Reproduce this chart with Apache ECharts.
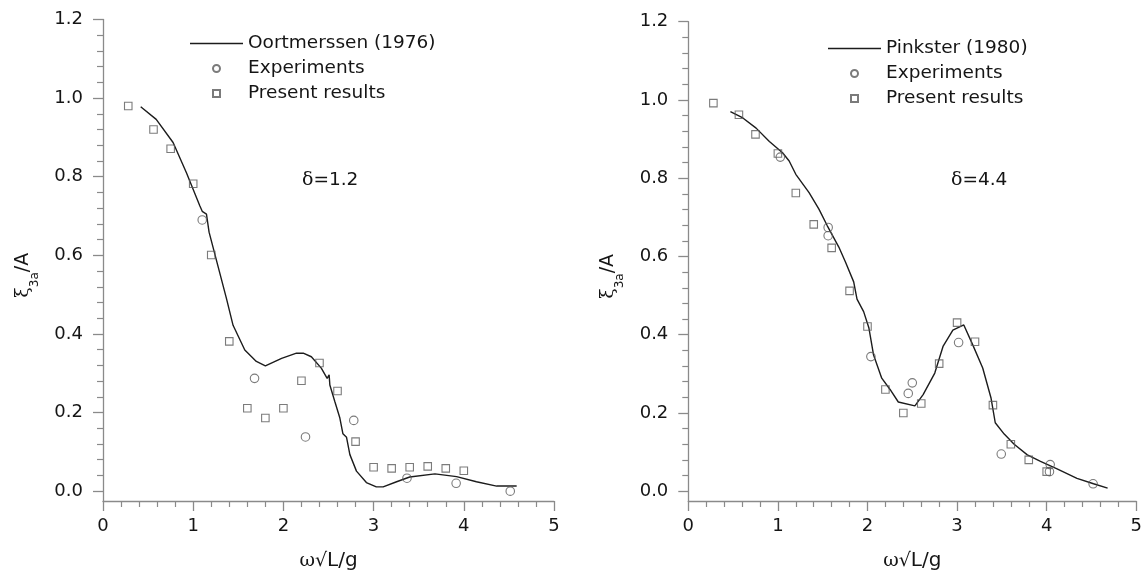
<!DOCTYPE html>
<html><head><meta charset="utf-8">
<script src="https://cdn.jsdelivr.net/npm/echarts@6/dist/echarts.min.js"></script>
<style>html,body{margin:0;padding:0;background:#fff}#c{width:1145px;height:576px}</style>
</head><body><div id="c"></div>
<script>
// ---- data ----
const oortmerssenLine = [[0.418,0.978],[0.59,0.946],[0.777,0.887],[0.925,0.81],[1.073,0.726],[1.10,0.712],[1.147,0.705],[1.176,0.659],[1.369,0.49],[1.442,0.422],[1.572,0.359],[1.70,0.33],[1.80,0.319],[1.98,0.338],[2.145,0.351],[2.22,0.351],[2.31,0.342],[2.42,0.313],[2.485,0.287],[2.507,0.296],[2.515,0.27],[2.57,0.228],[2.626,0.186],[2.66,0.146],[2.70,0.137],[2.737,0.093],[2.81,0.051],[2.92,0.022],[3.03,0.011],[3.106,0.011],[3.255,0.024],[3.40,0.036],[3.68,0.044],[3.92,0.037],[4.14,0.024],[4.364,0.013],[4.586,0.013]];
const leftExperiments = [[1.10,0.69],[1.68,0.287],[2.245,0.138],[2.78,0.18],[3.37,0.033],[3.915,0.02],[4.515,0.0]];
const leftPresent = [[0.28,0.98],[0.56,0.92],[0.75,0.871],[1.0,0.782],[1.2,0.601],[1.4,0.381],[1.6,0.211],[1.8,0.186],[2.0,0.211],[2.2,0.281],[2.4,0.326],[2.6,0.255],[2.8,0.126],[3.0,0.061],[3.2,0.058],[3.4,0.061],[3.6,0.063],[3.8,0.058],[4.0,0.052]];

const pinksterLine = [[0.47,0.970],[0.609,0.954],[0.757,0.928],[0.905,0.894],[1.052,0.865],[1.126,0.844],[1.20,0.81],[1.348,0.763],[1.458,0.721],[1.55,0.679],[1.68,0.624],[1.754,0.586],[1.846,0.535],[1.883,0.491],[1.957,0.459],[2.016,0.417],[2.068,0.348],[2.159,0.289],[2.252,0.26],[2.344,0.228],[2.529,0.218],[2.621,0.247],[2.751,0.302],[2.843,0.37],[2.953,0.412],[3.075,0.425],[3.175,0.374],[3.286,0.315],[3.378,0.239],[3.426,0.175],[3.526,0.146],[3.637,0.12],[3.784,0.093],[3.931,0.076],[4.116,0.057],[4.338,0.033],[4.523,0.019],[4.68,0.008]];
const rightExperiments = [[1.027,0.854],[1.561,0.674],[1.561,0.653],[2.038,0.344],[2.455,0.25],[2.50,0.277],[3.017,0.38],[3.493,0.095],[4.039,0.068],[4.031,0.05],[4.518,0.019]];
const rightPresent = [[0.28,0.992],[0.565,0.962],[0.75,0.912],[1.0,0.863],[1.2,0.762],[1.4,0.682],[1.6,0.622],[1.8,0.512],[2.0,0.421],[2.2,0.26],[2.4,0.20],[2.6,0.224],[2.8,0.326],[3.0,0.431],[3.2,0.382],[3.4,0.22],[3.6,0.12],[3.8,0.08],[4.0,0.05]];

const yTickValues = [0, 0.2, 0.4, 0.6, 0.8, 1.0, 1.2];
const yMinorTickValues = [0.04,0.08,0.12,0.16,0.24,0.28,0.32,0.36,0.44,0.48,0.52,0.56,0.64,0.68,0.72,0.76,0.84,0.88,0.92,0.96,1.04,1.08,1.12,1.16];
const xRange = [0, 5];
const yRange = [-0.025, 1.2];
const leftLegendNames = ['Oortmerssen (1976)', 'Experiments', 'Present results'];
const rightLegendNames = ['Pinkster (1980)', 'Experiments', 'Present results'];
const deltaLabels = ['1.2', '4.4'];

// ---- styles ----
const AX = '#8a8a8a', TXT = '#151515', SANS = 'DejaVu Sans', SERIF = 'DejaVu Serif';
const LINE_ICON = 'path://M0,0H53V1.4H0Z';
const SQUARE_ICON = 'path://M0,0H10V10H0Z';
const grids = [
  {left: 103, top: 19.5, width: 451, height: 483.5},
  {left: 688.3, top: 21.7, width: 451.7, height: 482.6}
];

function xAxis(i) {
  return {
    type: 'value', gridIndex: i, min: xRange[0], max: xRange[1], interval: 1,
    axisLine: {onZero: false, lineStyle: {color: AX, width: 1.3}},
    axisTick: {length: 10, lineStyle: {color: AX, width: 1.3}},
    minorTick: {show: true, splitNumber: 5, length: 6, lineStyle: {color: AX, width: 1.2}},
    splitLine: {show: false}, minorSplitLine: {show: false},
    axisLabel: {margin: 16, fontSize: 18, color: TXT, fontFamily: SANS},
    name: '{w|ω√}{n|L/g}', nameLocation: 'middle', nameGap: 50,
    nameTextStyle: {rich: {w: {fontFamily: SERIF, fontSize: 19, color: TXT}, n: {fontFamily: SANS, fontSize: 20, color: TXT}}}
  };
}
function yAxisMain(i) {
  return {
    type: 'value', gridIndex: i, min: yRange[0], max: yRange[1], position: 'left',
    axisLine: {onZero: false, lineStyle: {color: AX, width: 1.3}},
    axisTick: {customValues: yTickValues, length: 10, lineStyle: {color: AX, width: 1.3}},
    axisLabel: {customValues: yTickValues, margin: 20, fontSize: 18, color: TXT, fontFamily: SANS, formatter: v => v.toFixed(1)},
    splitLine: {show: false},
    name: '{x|ξ}{s|3a}{n|/A}', nameLocation: 'middle', nameRotate: 90, nameGap: 68,
    nameTextStyle: {padding: [0, 30, 0, 0], rich: {
      x: {fontFamily: SERIF, fontSize: 19, color: TXT, lineHeight: 24},
      s: {fontFamily: SANS, fontSize: 12, color: TXT, lineHeight: 12, verticalAlign: 'bottom', padding: [0, 0, -6, 0]},
      n: {fontFamily: SANS, fontSize: 19, color: TXT, lineHeight: 24}
    }}
  };
}
function yAxisMinor(i) {
  return {
    type: 'value', gridIndex: i, min: yRange[0], max: yRange[1], position: 'left',
    axisLine: {show: false, onZero: false},
    axisTick: {customValues: yMinorTickValues, length: 6, lineStyle: {color: AX, width: 1.2}},
    axisLabel: {show: false}, splitLine: {show: false}
  };
}
function lineSeries(name, data, i) {
  return {type: 'line', name, data, xAxisIndex: i, yAxisIndex: i * 2, symbol: 'none', showSymbol: false,
    lineStyle: {color: '#1c1c1c', width: 1.4}, itemStyle: {color: '#1c1c1c'}, z: 3, silent: true};
}
function markSeries(name, data, i, symbol, size) {
  return {type: 'scatter', name, data, xAxisIndex: i, yAxisIndex: i * 2, symbol, symbolSize: size,
    itemStyle: {color: 'none', borderColor: '#5a5a5a', borderWidth: 1.1}, z: 4, silent: true};
}
function legend(names, left, top) {
  return {
    data: [
      {name: names[0], icon: LINE_ICON, itemStyle: {color: '#1c1c1c', borderWidth: 0}},
      {name: names[1], icon: 'circle'},
      {name: names[2], icon: SQUARE_ICON}
    ],
    left, top, padding: 0, orient: 'vertical', itemWidth: 53, itemHeight: 7, itemGap: 0,
    symbolKeepAspect: true, selectedMode: false,
    textStyle: {fontSize: 18.5, lineHeight: 25, color: TXT, fontFamily: SANS}
  };
}
function deltaText(label, x, y) {
  return {type: 'text', x, y, style: {text: '{d|δ}{n|=' + label + '}', verticalAlign: 'middle',
    rich: {d: {fontFamily: SERIF, fontSize: 19, fill: TXT}, n: {fontFamily: SANS, fontSize: 18.5, fill: TXT}}}};
}

const chart = echarts.init(document.getElementById('c'), null, {renderer: 'canvas'});
chart.setOption({
  backgroundColor: '#fff',
  animation: false,
  grid: grids,
  xAxis: [xAxis(0), xAxis(1)],
  yAxis: [yAxisMain(0), yAxisMinor(0), yAxisMain(1), yAxisMinor(1)],
  legend: [legend(leftLegendNames, 190, 31), legend(rightLegendNames, 828, 36)],
  graphic: [deltaText(deltaLabels[0], 302, 180), deltaText(deltaLabels[1], 951, 180)],
  series: [
    lineSeries('Oortmerssen (1976)', oortmerssenLine, 0),
    markSeries('Experiments', leftExperiments, 0, 'circle', 8.5),
    markSeries('Present results', leftPresent, 0, 'rect', 7.5),
    lineSeries('Pinkster (1980)', pinksterLine, 1),
    markSeries('Experiments', rightExperiments, 1, 'circle', 8.5),
    markSeries('Present results', rightPresent, 1, 'rect', 7.5)
  ]
});
</script></body></html>
